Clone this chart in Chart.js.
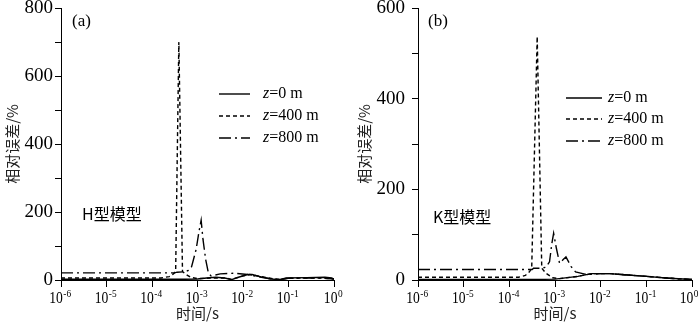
<!DOCTYPE html>
<html>
<head>
<meta charset="utf-8">
<script src="https://cdn.jsdelivr.net/npm/chart.js@4.4.0/dist/chart.umd.min.js"></script>
<style>
	body { margin: 0; background: #fff; }
	#wrap { position: relative; width: 700px; height: 325px; }
	canvas { position: absolute; top: 0; }
</style>
</head>
<body>
<div id="wrap">
	<canvas id="js-chart-a" width="350" height="325" style="left:0"></canvas>
	<canvas id="js-chart-b" width="350" height="325" style="left:350px"></canvas>
</div>
<script>
// x axis decades (exponent of 10, time in s)
const decades = [-6, -5, -4, -3, -2, -1, 0]
const seriesNames = ['=0 m', '=400 m', '=800 m']

// (a) H型模型 : log10(t) and relative error %
const aSolidLogT = [-6, -4, -3.3, -3.0, -2.8, -2.6, -2.4, -2.25, -2.1, -1.9, -1.8, -1.6, -1.4, -1.2, -1.05, -0.6, -0.2, -0.05, 0]
const aSolidErr = [2, 2, 2, 3, 6, 8, 6, 1, 8, 16, 16, 9, 3, 1, 6, 7, 8, 6, 2]
const aDashLogT = [-6, -3.8, -3.62, -3.53, -3.48, -3.41, -3.33, -3.27, -3.15, -3.0, -2.7, -2.4, -2.25, -2.0, -1.85, -1.6, -1.3, -1.2, -1.0, -0.3, 0]
const aDashErr = [6, 6, 10, 18, 25, 700, 25, 18, 8, 4, 6, 6, 2, 12, 16, 10, 3, 2, 5, 6, 3]
const aDotLogT = [-6, -3.5, -3.45, -3.3, -3.2, -3.13, -3.03, -2.97, -2.92, -2.88, -2.82, -2.76, -2.7, -2.5, -2.2, -1.9, -1.6, -1.3, -1.2, -1.0, -0.3, 0]
const aDotErr = [21, 21, 23, 24, 28, 39, 90, 140, 176, 120, 60, 20, 12, 18, 20, 16, 8, 2, 1, 5, 6, 3]

// (b) K型模型
const bSolidLogT = [-6, -3.5, -3.0, -2.5, -2.2, -1.8, -1.4, -1.0, -0.5, 0]
const bSolidErr = [1, 1, 2, 8, 14, 14, 11, 8, 4, 1]
const bDashLogT = [-6, -3.8, -3.65, -3.56, -3.51, -3.39, -3.29, -3.2, -3.05, -2.9, -2.5, -2.2, -1.8, -1.4, -1.0, -0.5, 0]
const bDashErr = [6, 6, 10, 18, 26, 537, 26, 15, 5, 3, 8, 14, 14, 11, 8, 4, 1]
const bDotLogT = [-6, -3.5, -3.47, -3.32, -3.2, -3.12, -3.07, -3.03, -2.97, -2.9, -2.82, -2.76, -2.65, -2.55, -2.3, -2.0, -1.8, -1.4, -1.0, -0.5, 0]
const bDotErr = [23, 23, 26, 26, 28, 40, 80, 103, 70, 37, 45, 51, 30, 18, 12, 14, 14, 11, 8, 4, 1]

const SERIF = "'Liberation Serif', 'Times New Roman', serif"
const CJK = "'Noto Sans CJK SC', sans-serif"
const dashes = [[], [4, 3], [12, 4, 2, 4]]

function toPoints(logT, err) {
	return logT.map((e, i) => ({ x: Math.pow(10, e), y: err[i] }))
}

// Legend, panel notes and the 10^n tick labels, drawn on top of the chart
const notesPlugin = {
	id: 'notes',
	afterDraw(chart) {
		const { ctx } = chart
		const n = chart.options.plugins.notes
		const xs = chart.scales.x
		ctx.save()
		ctx.fillStyle = '#000'
		ctx.strokeStyle = '#000'
		ctx.textBaseline = 'alphabetic'

		// x tick labels as 10 with a raised exponent
		xs.ticks.forEach(t => {
			const exp = String(Math.round(Math.log10(t.value))).replace('-', '\u2011')
			const k = 0.85
			ctx.font = `16px ${SERIF}`
			const w1 = ctx.measureText('10').width * k
			ctx.font = `11px ${SERIF}`
			const w2 = ctx.measureText(exp).width * k
			let left = xs.getPixelForValue(t.value) - (w1 + w2) / 2 - 1
			left = Math.min(left, chart.width - 2 - (w1 + w2))
			ctx.save()
			ctx.translate(left, 0)
			ctx.scale(k, 1)
			ctx.font = `16px ${SERIF}`
			ctx.fillText('10', 0, 303)
			ctx.font = `11px ${SERIF}`
			ctx.fillText(exp, w1 / k + 0.5, 297)
			ctx.restore()
		})

		ctx.textBaseline = 'middle'
		ctx.font = `17px ${SERIF}`
		ctx.fillText(n.tag, n.tagX, 22)
		ctx.font = `16px ${CJK}`
		ctx.fillText(n.model, n.modelX, n.modelY)
		n.legendY.forEach((y, i) => {
			ctx.lineWidth = 1.4
			ctx.setLineDash(dashes[i])
			ctx.beginPath()
			ctx.moveTo(n.lineX[0], y)
			ctx.lineTo(n.lineX[1], y)
			ctx.stroke()
			ctx.setLineDash([])
			ctx.font = `italic 16px ${SERIF}`
			ctx.fillText('z', n.textX, y)
			const w = ctx.measureText('z').width
			ctx.font = `16px ${SERIF}`
			ctx.fillText(seriesNames[i], n.textX + w, y)
		})
		ctx.restore()
	}
}

function makePanel(canvas, cfg) {
	return new Chart(canvas, {
		type: 'line',
		data: {
			datasets: cfg.series.map((s, i) => ({
				label: 'z' + seriesNames[i],
				data: toPoints(s[0], s[1]),
				borderColor: '#000',
				borderWidth: 1.4,
				borderDash: dashes[i],
				pointRadius: 0,
				tension: 0,
				fill: false
			}))
		},
		options: {
			responsive: false,
			animation: false,
			devicePixelRatio: 1,
			layout: { padding: { top: 8, right: cfg.padRight, left: 0, bottom: 0 } },
			plugins: {
				legend: { display: false },
				tooltip: { enabled: false },
				notes: cfg.notes
			},
			scales: {
				x: {
					type: 'logarithmic',
					min: 1e-6,
					max: 1,
					afterBuildTicks: s => { s.ticks = decades.map(e => ({ value: Math.pow(10, e) })) },
					afterFit: s => { s.height = 45; s.paddingLeft = 0; s.paddingRight = 0 },
					ticks: {
						// labels are painted by the notes plugin with a raised exponent
						callback: v => '10^' + Math.round(Math.log10(v)),
						autoSkip: false,
						maxRotation: 0,
						color: 'rgba(0,0,0,0)',
						padding: 2,
						font: { family: SERIF, size: 16 }
					},
					grid: { drawOnChartArea: false, tickLength: 7, tickColor: '#000' },
					border: { color: '#000', width: 1 },
					title: {
						display: true,
						text: '时间/s',
						color: '#222',
						font: { family: CJK, size: 15, lineHeight: 1 },
						padding: { top: 0, bottom: 4 }
					}
				},
				y: {
					min: 0,
					max: cfg.yMax,
					afterFit: s => { s.width = cfg.axisLeft; s.paddingTop = 0; s.paddingBottom = 0 },
					ticks: {
						stepSize: 100,
						callback: v => (v % 200 === 0 ? v : ''),
						color: '#000',
						padding: cfg.tickPad,
						font: { family: SERIF, size: 19 }
					},
					grid: { drawOnChartArea: false, tickLength: 6, tickColor: '#000' },
					border: { color: '#000', width: 1 },
					title: {
						display: true,
						text: '相对误差/%',
						color: '#222',
						font: { family: CJK, size: 15, lineHeight: 1 },
						padding: { top: cfg.titlePad, bottom: 0 }
					}
				}
			}
		},
		plugins: [notesPlugin]
	})
}

const chartA = makePanel(document.getElementById('js-chart-a'), {
	series: [[aSolidLogT, aSolidErr], [aDashLogT, aDashErr], [aDotLogT, aDotErr]],
	yMax: 800,
	axisLeft: 61,
	padRight: 16,
	titlePad: 5,
	tickPad: 2,
	notes: {
		tag: '(a)', tagX: 72, model: 'H型模型', modelX: 82, modelY: 214,
		lineX: [219, 250], textX: 263, legendY: [94, 116, 138]
	}
})

const chartB = makePanel(document.getElementById('js-chart-b'), {
	series: [[bSolidLogT, bSolidErr], [bDashLogT, bDashErr], [bDotLogT, bDotErr]],
	yMax: 600,
	axisLeft: 68,
	padRight: 8,
	titlePad: 7,
	tickPad: 7,
	notes: {
		tag: '(b)', tagX: 78, model: 'K型模型', modelX: 83, modelY: 217,
		lineX: [216, 252], textX: 258, legendY: [98, 119, 141]
	}
})
</script>
</body>
</html>
